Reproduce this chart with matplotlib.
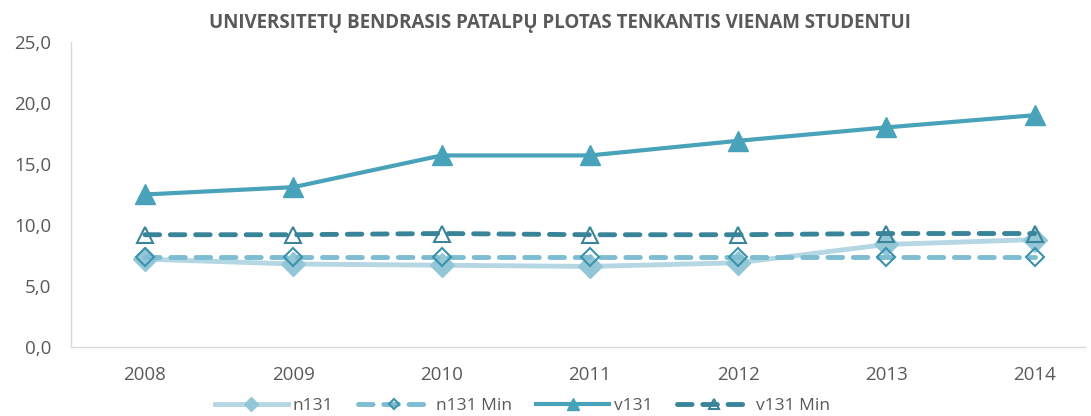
import matplotlib.pyplot as plt
from matplotlib.ticker import FuncFormatter

# duomenys
metai = ["2008", "2009", "2010", "2011", "2012", "2013", "2014"]
n131 = [7.2, 6.8, 6.7, 6.6, 6.9, 8.4, 8.8]
n131_min = [7.4, 7.4, 7.4, 7.4, 7.4, 7.4, 7.4]
v131 = [12.5, 13.1, 15.7, 15.7, 16.9, 18.0, 19.0]
v131_min = [9.2, 9.2, 9.3, 9.2, 9.2, 9.3, 9.3]

plt.rcParams['font.family'] = ['Open Sans', 'DejaVu Sans']

fig = plt.figure(figsize=(10.91, 4.16), dpi=100)
ax = fig.add_axes([0.065, 0.166, 0.9295, 0.733])

x = list(range(len(metai)))

ax.plot(x, n131, color='#b5d7e3', lw=3.5, marker='D', markersize=12,
        markerfacecolor='#93c6d7', markeredgecolor='#93c6d7', label='n131', zorder=2)
ax.plot(x, n131_min, color='#7dbcd1', lw=3.5, ls=(0, (3, 2.2)), dash_capstyle='round',
        marker='D', markersize=9, markerfacecolor='none', markeredgecolor='#3b92ab',
        markeredgewidth=1.5, label='n131 Min', zorder=3)
ax.plot(x, v131, color='#48a2ba', lw=3, marker='^', markersize=15,
        markerfacecolor='#48a2ba', markeredgecolor='#48a2ba', label='v131', zorder=4)
ax.plot(x, v131_min, color='#3a8499', lw=3.5, ls=(0, (3, 2.2)), dash_capstyle='round',
        marker='^', markersize=11, markerfacecolor='none', markeredgecolor='#3a8499',
        markeredgewidth=1.5, label='v131 Min', zorder=5)

ax.set_xlim(-0.5, 6.34)
ax.set_ylim(0, 25)
ax.set_xticks(x)
ax.set_xticklabels(metai)
ax.set_yticks([0, 5, 10, 15, 20, 25])
ax.yaxis.set_major_formatter(FuncFormatter(lambda v, p: f"{v:.1f}".replace('.', ',')))
ax.tick_params(axis='both', length=0, labelcolor='#595959')
ax.tick_params(axis='x', pad=14, labelsize=13.5)
ax.tick_params(axis='y', pad=14, labelsize=13.5)

for s in ['top', 'right']:
    ax.spines[s].set_visible(False)
for s in ['left', 'bottom']:
    ax.spines[s].set_color('#d9d9d9')
    ax.spines[s].set_linewidth(1)

fig.text(0.513, 0.945, "UNIVERSITETŲ BENDRASIS PATALPŲ PLOTAS TENKANTIS VIENAM STUDENTUI",
         ha='center', va='center', fontsize=13.5, fontweight='bold', color='#595959')

ax.legend(loc='center', bbox_to_anchor=(0.445, -0.195), ncol=4, frameon=False,
          fontsize=12.5, labelcolor='#595959', handlelength=4.2, columnspacing=1.4,
          handletextpad=0.3, markerscale=0.6)

fig.savefig('out.png', dpi=100)
